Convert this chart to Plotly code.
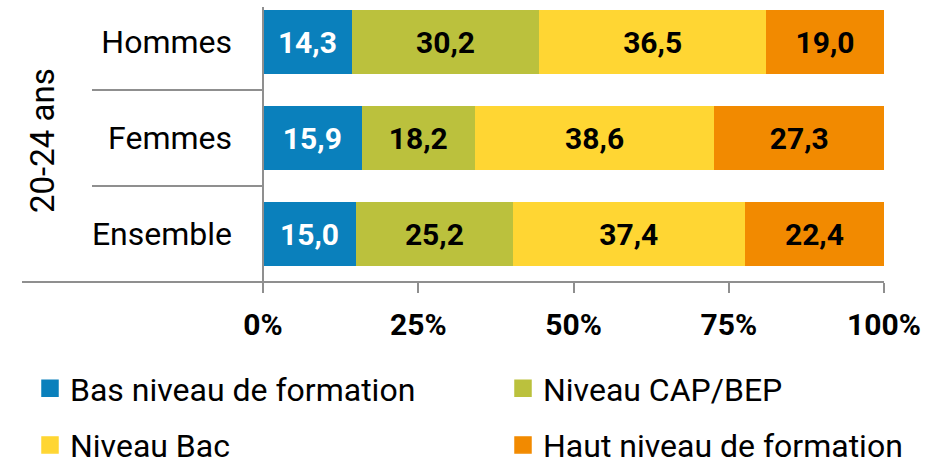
import plotly.graph_objects as go

# Data: share of each qualification level among 20-24 year-olds (%)
categories = ["Ensemble", "Femmes", "Hommes"]
series_names = ["Bas niveau de formation", "Niveau CAP/BEP", "Niveau Bac", "Haut niveau de formation"]
bas = [15.0, 15.9, 14.3]
cap_bep = [25.2, 18.2, 30.2]
bac = [37.4, 38.6, 36.5]
haut = [22.4, 27.3, 19.0]
x_ticks = [0, 25, 50, 75, 100]
x_tick_labels = ["0%", "25%", "50%", "75%", "100%"]
group_title = "20-24 ans"

series_values = [bas, cap_bep, bac, haut]
colors = ["#0A80BC", "#BBC13D", "#FFD633", "#F28A00"]
text_colors = ["white", "black", "black", "black"]
legend_ids = ["legend", "legend2", "legend", "legend2"]

W, H = 926, 461
L, R, T, B = 263, 42, 7, 179
plot_w = W - L - R
plot_h = H - T - B
line_color = "#8F8F8F"
FONT = "Roboto"

fig = go.Figure()

for name, vals, col, tcol in zip(series_names, series_values, colors, text_colors):
    fig.add_trace(go.Bar(
        y=categories, x=vals, orientation="h", name=name,
        marker=dict(color=col, line=dict(width=0)),
        texttemplate="%{x:.1f}", textposition="inside",
        insidetextanchor="middle", textangle=0,
        textfont=dict(family=FONT, size=30, color=tcol, weight=700),
        showlegend=False, hoverinfo="skip",
    ))

# Legend entries with square swatches, split into two columns
for i, (name, col) in enumerate(zip(series_names, colors)):
    fig.add_trace(go.Scatter(
        x=[None], y=[None], mode="markers", name=name,
        marker=dict(symbol="square", size=16, color=col, line=dict(color=col, width=1.5)),
        legend=legend_ids[i], legendgroup=f"g{i}", showlegend=True,
    ))

legend_common = dict(
    orientation="v", xref="container", yref="container",
    xanchor="left", yanchor="top",
    font=dict(family=FONT, size=32, color="black"),
    tracegroupgap=12, itemsizing="trace", bgcolor="rgba(0,0,0,0)",
)

def px_x(p):
    return (p - L) / plot_w

def px_y(p):
    return (H - B - p) / plot_h

shapes = [
    # vertical axis line
    dict(type="line", xref="paper", yref="paper", x0=0, x1=0, y0=0, y1=1,
         line=dict(color=line_color, width=2)),
    # baseline extending under the category labels
    dict(type="line", xref="paper", yref="paper", x0=px_x(22), x1=1, y0=0, y1=0,
         line=dict(color=line_color, width=2)),
]
for yv in [0.5, 1.5]:
    shapes.append(dict(type="line", xref="paper", yref="y", x0=px_x(92), x1=0, y0=yv, y1=yv,
                       line=dict(color=line_color, width=2)))

fig.update_layout(
    width=W, height=H,
    margin=dict(l=L, r=R, t=T, b=B, autoexpand=False),
    paper_bgcolor="white", plot_bgcolor="white",
    barmode="stack", bargap=1 - 64 / 96,
    separators=", ",
    font=dict(family=FONT, size=32, color="black"),
    xaxis=dict(
        range=[0, 100], tickvals=x_ticks, ticktext=x_tick_labels,
        ticks="outside", ticklen=10, tickwidth=2, tickcolor=line_color,
        tickfont=dict(family=FONT, size=30, color="black", weight=700),
        showgrid=False, zeroline=False, showline=False, fixedrange=True,
        ticklabelstandoff=6,
    ),
    yaxis=dict(
        categoryorder="array", categoryarray=categories,
        range=[-0.5, -0.5 + plot_h / 96],
        ticks="", showgrid=False, zeroline=False, showline=False,
        tickfont=dict(family=FONT, size=32, color="black"),
        ticklabelstandoff=30,
    ),
    shapes=shapes,
    annotations=[dict(
        text=group_title, xref="paper", yref="paper",
        x=px_x(42), y=px_y(140), textangle=-90, showarrow=False,
        font=dict(family=FONT, size=33, color="black"),
        xanchor="center", yanchor="middle",
    )],
    legend=dict(x=30 / W, y=1 - 361 / H, **legend_common),
    legend2=dict(x=503 / W, y=1 - 361 / H, **legend_common),
    showlegend=True,
)

fig.write_html("out.html")
